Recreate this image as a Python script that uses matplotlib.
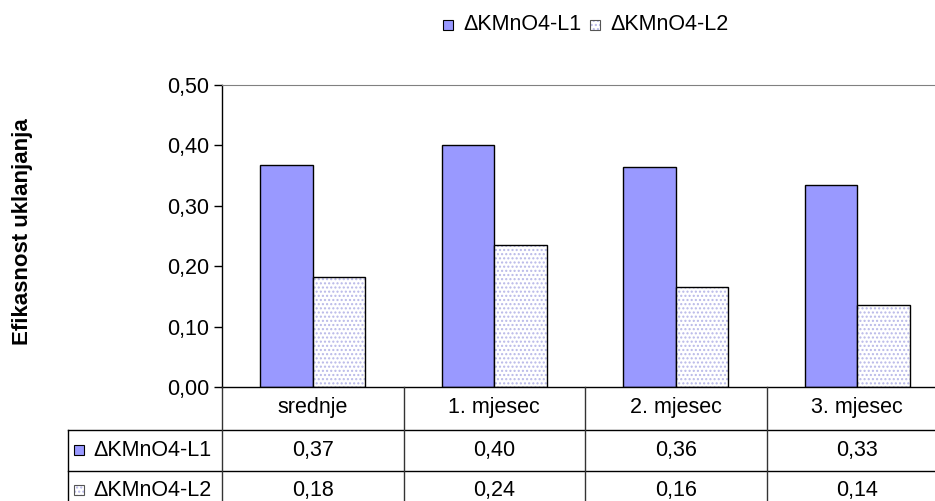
import numpy as np
import matplotlib
matplotlib.use("Agg")
import matplotlib.pyplot as plt
from matplotlib.patches import Rectangle
from matplotlib.ticker import FuncFormatter

# podaci
kategorije = ["srednje", "1. mjesec", "2. mjesec", "3. mjesec"]
serije = ["\u0394KMnO4-L1", "\u0394KMnO4-L2"]
l1 = [0.367, 0.400, 0.364, 0.334]
l2 = [0.182, 0.235, 0.166, 0.135]
l1_tab = ["0,37", "0,40", "0,36", "0,33"]
l2_tab = ["0,18", "0,24", "0,16", "0,14"]

plava = "#9999FF"
lavanda = "#B8B8E8"
fs = 15.5

plt.rcParams['font.family'] = ['Liberation Sans', 'DejaVu Sans']
W, H = 935, 501
fig = plt.figure(figsize=(W / 100, H / 100), dpi=100)

# os grafikona (desni kraj izlazi van slike kao u originalu)
x0, x1 = 222, 948
y0, y1 = 387, 85
ax = fig.add_axes([x0 / W, (H - y0) / H, (x1 - x0) / W, (y0 - y1) / H])

x = np.arange(len(kategorije))
sir = 0.29
ax.bar(x - sir / 2, l1, sir, color=plava, edgecolor="black", linewidth=1.0)
# tockasta ispuna za L2: uzorak pa obrub
ax.bar(x + sir / 2, l2, sir, color="white", edgecolor=lavanda, hatch="....", linewidth=0)
ax.bar(x + sir / 2, l2, sir, fill=False, edgecolor="black", linewidth=1.0)

ax.set_xlim(-0.5, len(kategorije) - 0.5)
ax.set_ylim(0, 0.5)
ax.set_yticks(np.arange(0, 0.51, 0.1))
ax.yaxis.set_major_formatter(FuncFormatter(lambda v, p: f"{v:.2f}".replace(".", ",")))
ax.tick_params(axis="y", length=6, width=1, labelsize=fs, pad=3, direction="out")
ax.set_xticks([])
ax.spines["right"].set_visible(False)
ax.spines["top"].set_color("#808080")
ax.spines["left"].set_linewidth(1)
ax.spines["bottom"].set_linewidth(1)

fig.text(23 / W, 1 - 232 / H, "Efikasnost uklanjanja", rotation=90, ha="center", va="center",
         fontsize=16, fontweight="bold")

# tablica podataka ispod grafikona
tax = fig.add_axes([x0 / W, 0, (x1 - x0) / W, (H - y0) / H])
tax.set_xlim(ax.get_xlim())
tax.set_ylim(H, y0)
tax.axis("off")
kat_px = (x1 - x0) / len(kategorije)
lijevo = (68 - x0) / kat_px - 0.5
desno = len(kategorije) - 0.5
red1, red2 = 430, 471
lc = "#333333"
tax.plot([lijevo, desno], [red1, red1], color="black", lw=1, clip_on=False)
tax.plot([lijevo, desno], [red2, red2], color="black", lw=1, clip_on=False)
tax.plot([lijevo, lijevo], [red1, H], color="black", lw=1, clip_on=False)
for i in range(len(kategorije) + 1):
    tax.plot([i - 0.5, i - 0.5], [y0, H], color=lc, lw=1, clip_on=False)

for i, k in enumerate(kategorije):
    tax.text(i, 407, k, ha="center", va="center", fontsize=fs)
    tax.text(i, 450, l1_tab[i], ha="center", va="center", fontsize=fs)
    tax.text(i, 490, l2_tab[i], ha="center", va="center", fontsize=fs)


def kvadratic(xs, yc, boja, tockice):
    # mali kvadratic kao u legendi
    if tockice:
        fig.patches.append(Rectangle((xs / W, 1 - (yc + 5) / H), 10 / W, 10 / H, transform=fig.transFigure,
                                     facecolor="white", edgecolor=lavanda, lw=0, hatch="...."))
        fig.patches.append(Rectangle((xs / W, 1 - (yc + 5) / H), 10 / W, 10 / H, transform=fig.transFigure,
                                     fill=False, edgecolor="#555555", lw=0.8))
    else:
        fig.patches.append(Rectangle((xs / W, 1 - (yc + 5) / H), 10 / W, 10 / H, transform=fig.transFigure,
                                     facecolor=boja, edgecolor="black", lw=0.8))


# oznake redova sa kvadraticima
for ypx, naziv, boja, tockice in [(450, serije[0], plava, False), (490, serije[1], "white", True)]:
    kvadratic(74, ypx, boja, tockice)
    fig.text(93 / W, 1 - ypx / H, naziv, ha="left", va="center", fontsize=fs)

# legenda gore
for xs, naziv, boja, tockice in [(443, serije[0], plava, False), (590, serije[1], "white", True)]:
    kvadratic(xs, 25, boja, tockice)
    fig.text((xs + 20) / W, 1 - 25 / H, naziv, ha="left", va="center", fontsize=fs)

fig.savefig("out.png", dpi=100)
